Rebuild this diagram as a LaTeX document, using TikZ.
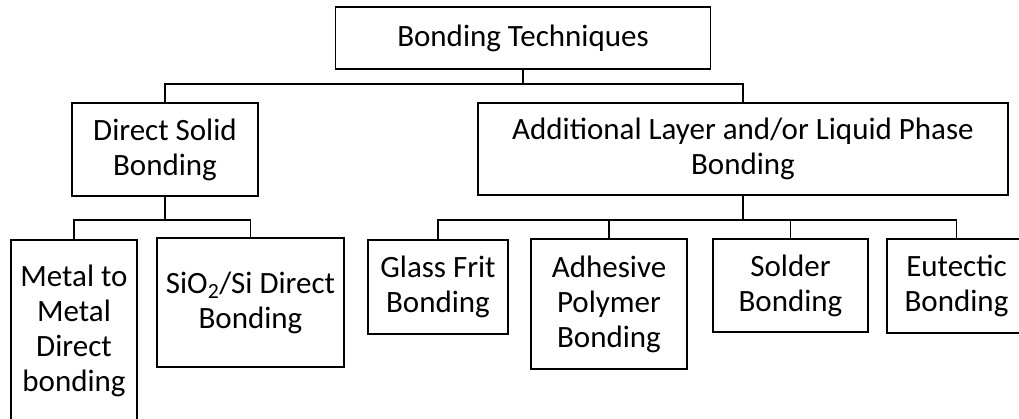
\documentclass[tikz,border=0pt]{standalone}
\usepackage{fontspec}
\setmainfont{Carlito}
\begin{document}
\begin{tikzpicture}[x=1pt,y=-1pt,
  box/.style={draw=black, line width=1.5pt, inner sep=0pt, align=center,
    font=\fontsize{31}{35}\selectfont, text=black},
  conn/.style={draw=black, line width=1.3pt}]
\useasboundingbox (0,0) rectangle (1019,418);
\clip (0,0) rectangle (1019,418);
\fill[white] (0,0) rectangle (1019,418);
\node[box, minimum width=375pt, minimum height=62pt] (top) at (523,38) {Bonding Techniques};
\node[box, minimum width=186pt, minimum height=93pt] (direct) at (165,149.5) {Direct Solid\\Bonding};
\node[box, minimum width=530pt, minimum height=92pt] (add) at (743,149) {Additional Layer and/or Liquid Phase\\Bonding};
\node[box, minimum width=126pt, minimum height=181pt] (metal) at (74,330.5) {Metal to\\Metal\\Direct\\bonding};
\node[box, minimum width=187pt, minimum height=129pt] (sio) at (250.5,302.5) {SiO\textsubscript{2}/Si Direct\\Bonding};
\node[box, minimum width=140pt, minimum height=94pt] (glass) at (438,287) {Glass Frit\\Bonding};
\node[box, minimum width=156pt, minimum height=130pt] (adhesive) at (609,304) {Adhesive\\Polymer\\Bonding};
\node[box, minimum width=155pt, minimum height=93pt] (solder) at (790.5,285.5) {Solder\\Bonding};
\node[box, minimum width=139pt, minimum height=94pt] (eutectic) at (956.5,286) {Eutectic\\Bonding};
\coordinate (b1) at (523,84);
\coordinate (b2) at (165,220);
\coordinate (b3) at (743,220);
\draw[conn] (top.south) -- (b1);
\draw[conn] (direct.north) |- (b1) -| (add.north);
\draw[conn] (direct.south) -- (b2);
\draw[conn] (metal.north) |- (b2) -| (sio.north);
\draw[conn] (add.south) -- (b3);
\draw[conn] (glass.north) |- (b3) -| (eutectic.north);
\draw[conn] (adhesive.north) |- (b3);
\draw[conn] (solder.north) |- (b3);
\end{tikzpicture}
\end{document}
